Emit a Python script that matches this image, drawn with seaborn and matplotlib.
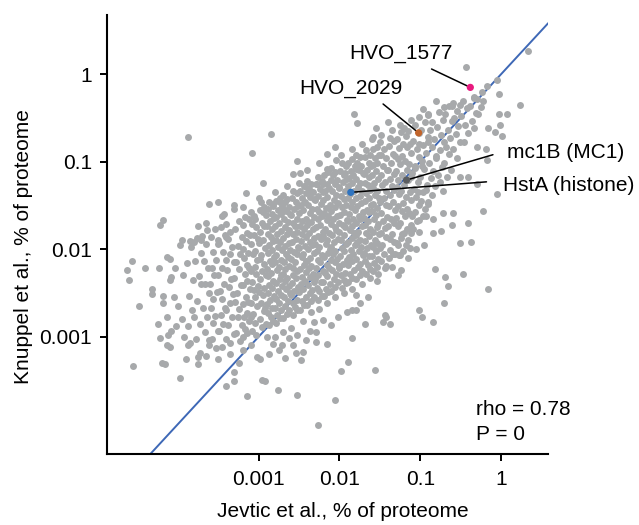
import numpy as np
import pandas as pd
import matplotlib
matplotlib.use("Agg")
import matplotlib.pyplot as plt
import seaborn as sns

# ---- values are log10(% of proteome) ----
# dense cloud, read in vertical strips from left to right
jevtic_core = [
    -3.84,-3.89,-3.81,-3.86,-3.83,-3.88,-3.85,-3.90,
    -3.77,-3.72,-3.79,-3.74,-3.71,-3.76,-3.80,-3.73,-3.78,-3.75,
    -3.70,-3.65,-3.68,-3.63,-3.66,-3.61,-3.69,-3.64,-3.67,-3.62,-3.65,
    -3.54,-3.59,-3.51,-3.56,-3.53,-3.58,-3.55,-3.60,-3.52,-3.57,-3.59,-3.54,-3.56,-3.51,-3.58,-3.53,
    -3.47,-3.42,-3.49,-3.44,-3.41,-3.46,-3.50,-3.43,-3.48,-3.45,-3.42,-3.47,-3.44,-3.49,-3.41,-3.46,
    -3.40,-3.35,-3.38,-3.33,-3.36,-3.31,-3.39,-3.34,-3.37,-3.32,-3.35,-3.40,-3.33,-3.38,-3.31,-3.36,
    -3.24,-3.29,-3.21,-3.26,-3.23,-3.28,-3.25,-3.30,-3.22,-3.27,-3.29,-3.24,-3.26,-3.21,-3.28,-3.23,
    -3.17,-3.12,-3.19,-3.14,-3.11,-3.16,-3.20,-3.13,-3.18,-3.15,-3.12,-3.17,-3.14,-3.19,-3.11,-3.16,-3.13,-3.20,-3.15,-3.18,-3.12,-3.17,-3.14,-3.19,
    -3.10,-3.05,-3.08,-3.03,-3.06,-3.01,-3.09,-3.04,-3.07,-3.02,-3.05,-3.10,-3.03,-3.08,-3.01,-3.06,-3.04,-3.09,-3.02,-3.07,-3.10,-3.05,-3.08,-3.03,
    -2.94,-2.99,-2.91,-2.96,-2.93,-2.98,-2.95,-3.00,-2.92,-2.97,-2.99,-2.94,-2.96,-2.91,-2.98,-2.93,-3.00,-2.95,-2.97,-2.92,-2.94,-2.99,-2.91,-2.96,
    -2.87,-2.82,-2.89,-2.84,-2.81,-2.86,-2.90,-2.83,-2.88,-2.85,-2.82,-2.87,-2.84,-2.89,-2.81,-2.86,-2.83,-2.90,-2.85,-2.88,-2.82,-2.87,-2.84,-2.89,-2.81,-2.86,-2.90,-2.83,-2.88,-2.85,-2.82,-2.87,
    -2.74,-2.79,-2.71,-2.76,-2.73,-2.78,-2.75,-2.80,-2.72,-2.77,-2.79,-2.74,-2.76,-2.71,-2.78,-2.73,-2.80,-2.75,-2.77,-2.72,-2.74,-2.79,-2.71,-2.76,-2.73,-2.78,-2.75,-2.80,-2.72,-2.77,-2.74,-2.79,
    -2.70,-2.65,-2.68,-2.63,-2.66,-2.61,-2.69,-2.64,-2.67,-2.62,-2.65,-2.70,-2.63,-2.68,-2.61,-2.66,-2.64,-2.69,-2.62,-2.67,-2.70,-2.65,-2.68,-2.63,-2.66,-2.61,-2.69,-2.64,-2.67,-2.62,-2.65,-2.70,
    -2.57,-2.52,-2.59,-2.54,-2.51,-2.56,-2.60,-2.53,-2.58,-2.55,-2.52,-2.57,-2.54,-2.59,-2.51,-2.56,-2.53,-2.60,-2.55,-2.58,-2.52,-2.57,-2.54,-2.59,-2.51,-2.56,-2.60,-2.53,-2.58,-2.55,-2.52,-2.57,
    -2.44,-2.49,-2.41,-2.46,-2.43,-2.48,-2.45,-2.50,-2.42,-2.47,-2.49,-2.44,-2.46,-2.41,-2.48,-2.43,-2.50,-2.45,-2.47,-2.42,-2.44,-2.49,-2.41,-2.46,-2.43,-2.48,-2.45,-2.50,-2.42,-2.47,-2.44,-2.49,
    -2.40,-2.35,-2.38,-2.33,-2.36,-2.31,-2.39,-2.34,-2.37,-2.32,-2.35,-2.40,-2.33,-2.38,-2.31,-2.36,-2.34,-2.39,-2.32,-2.37,-2.40,-2.35,-2.38,-2.33,-2.36,-2.31,-2.39,-2.34,-2.37,-2.32,-2.35,-2.40,
    -2.27,-2.22,-2.29,-2.24,-2.21,-2.26,-2.30,-2.23,-2.28,-2.25,-2.22,-2.27,-2.24,-2.29,-2.21,-2.26,-2.23,-2.30,-2.25,-2.28,-2.22,-2.27,-2.24,-2.29,-2.21,-2.26,-2.30,-2.23,-2.28,-2.25,-2.22,-2.27,
    -2.14,-2.19,-2.11,-2.16,-2.13,-2.18,-2.15,-2.20,-2.12,-2.17,-2.19,-2.14,-2.16,-2.11,-2.18,-2.13,-2.20,-2.15,-2.17,-2.12,-2.14,-2.19,-2.11,-2.16,-2.13,-2.18,-2.15,-2.20,-2.12,-2.17,-2.14,-2.19,
    -2.10,-2.05,-2.08,-2.03,-2.06,-2.01,-2.09,-2.04,-2.07,-2.02,-2.05,-2.10,-2.03,-2.08,-2.01,-2.06,-2.04,-2.09,-2.02,-2.07,-2.10,-2.05,-2.08,-2.03,-2.06,-2.01,-2.09,-2.04,-2.07,-2.02,-2.05,-2.10,
    -1.97,-1.92,-1.99,-1.94,-1.91,-1.96,-2.00,-1.93,-1.98,-1.95,-1.92,-1.97,-1.94,-1.99,-1.91,-1.96,-1.93,-2.00,-1.95,-1.98,-1.92,-1.97,-1.94,-1.99,-1.91,-1.96,-2.00,-1.93,-1.98,-1.95,-1.92,-1.97,
    -1.84,-1.89,-1.81,-1.86,-1.83,-1.88,-1.85,-1.90,-1.82,-1.87,-1.89,-1.84,-1.86,-1.81,-1.88,-1.83,-1.90,-1.85,-1.87,-1.82,-1.84,-1.89,-1.81,-1.86,-1.83,-1.88,-1.85,-1.90,-1.82,-1.87,-1.84,-1.89,
    -1.80,-1.75,-1.78,-1.73,-1.76,-1.71,-1.79,-1.74,-1.77,-1.72,-1.75,-1.80,-1.73,-1.78,-1.71,-1.76,-1.74,-1.79,-1.72,-1.77,-1.80,-1.75,-1.78,-1.73,-1.76,-1.71,-1.79,-1.74,-1.77,-1.72,-1.75,-1.80,
    -1.67,-1.62,-1.69,-1.64,-1.61,-1.66,-1.70,-1.63,-1.68,-1.65,-1.62,-1.67,-1.64,-1.69,-1.61,-1.66,-1.63,-1.70,-1.65,-1.68,-1.62,-1.67,-1.64,-1.69,-1.61,-1.66,-1.70,-1.63,-1.68,-1.65,-1.62,-1.67,
    -1.54,-1.59,-1.51,-1.56,-1.53,-1.58,-1.55,-1.60,-1.52,-1.57,-1.59,-1.54,-1.56,-1.51,-1.58,-1.53,-1.60,-1.55,-1.57,-1.52,-1.54,-1.59,-1.51,-1.56,-1.53,-1.58,-1.55,-1.60,-1.52,-1.57,-1.54,-1.59,
    -1.50,-1.45,-1.48,-1.43,-1.46,-1.41,-1.49,-1.44,-1.47,-1.42,-1.45,-1.50,-1.43,-1.48,-1.41,-1.46,-1.44,-1.49,-1.42,-1.47,-1.50,-1.45,-1.48,-1.43,
    -1.37,-1.32,-1.39,-1.34,-1.31,-1.36,-1.40,-1.33,-1.38,-1.35,-1.32,-1.37,-1.34,-1.39,-1.31,-1.36,-1.33,-1.40,-1.35,-1.38,-1.32,-1.37,-1.34,-1.39,
    -1.24,-1.29,-1.21,-1.26,-1.23,-1.28,-1.25,-1.30,-1.22,-1.27,-1.29,-1.24,-1.26,-1.21,-1.28,-1.23,-1.30,-1.25,-1.27,-1.22,-1.24,-1.29,-1.21,-1.26,
    -1.20,-1.15,-1.18,-1.13,-1.16,-1.11,-1.19,-1.14,-1.17,-1.12,-1.15,-1.20,-1.13,-1.18,-1.11,-1.16,-1.14,-1.19,-1.12,-1.17,-1.20,-1.15,-1.18,-1.13,
    -1.07,-1.02,-1.09,-1.04,-1.01,-1.06,-1.10,-1.03,-1.08,-1.05,-1.02,-1.07,-1.04,-1.09,-1.01,-1.06,-1.03,-1.10,
    -0.94,-0.99,-0.91,-0.96,-0.93,-0.98,-0.95,-1.00,-0.92,-0.97,-0.99,-0.94,-0.96,-0.91,-0.98,-0.93,
    -0.90,-0.85,-0.88,-0.83,-0.86,-0.81,-0.89,-0.84,-0.87,-0.82,-0.85,-0.90,
    -0.77,-0.72,-0.79,-0.74,-0.71,-0.76,-0.80,-0.73,-0.78,-0.75,-0.72,
    -0.64,-0.69,-0.61,-0.66,-0.63,-0.68,-0.65,-0.70,-0.62,-0.67,
    -0.60,-0.55,-0.58,-0.53,-0.56,-0.51,-0.59,-0.54,
    -0.47,-0.42,-0.49,-0.44,-0.41,-0.46,
    -0.34,-0.39,-0.31,-0.36,-0.33,
    -0.30,-0.25,-0.28,
]
knuppel_core = [
    -1.97,-2.16,-2.35,-2.53,-2.70,-2.88,-3.07,-3.25,
    -1.87,-2.04,-2.13,-2.31,-2.40,-2.59,-2.77,-2.86,-3.03,-3.23,
    -1.85,-1.94,-2.13,-2.22,-2.40,-2.50,-2.67,-2.77,-2.95,-3.04,-3.22,
    -1.77,-1.86,-1.94,-2.03,-2.12,-2.21,-2.30,-2.40,-2.49,-2.57,-2.67,-2.76,-2.84,-2.93,-3.03,-3.13,
    -1.75,-1.84,-1.93,-2.03,-2.12,-2.22,-2.30,-2.40,-2.48,-2.57,-2.67,-2.75,-2.85,-2.94,-3.03,-3.12,
    -1.71,-1.80,-1.88,-1.97,-2.06,-2.15,-2.24,-2.34,-2.43,-2.51,-2.61,-2.70,-2.78,-2.87,-2.97,-3.07,
    -1.68,-1.77,-1.86,-1.96,-2.05,-2.15,-2.23,-2.33,-2.41,-2.50,-2.60,-2.68,-2.78,-2.87,-2.96,-3.05,
    -1.63,-1.66,-1.72,-1.81,-1.84,-1.91,-2.00,-2.04,-2.10,-2.18,-2.22,-2.28,-2.36,-2.41,-2.45,-2.55,-2.60,-2.63,-2.73,-2.78,-2.82,-2.91,-2.96,-3.00,
    -1.57,-1.65,-1.71,-1.75,-1.84,-1.88,-1.94,-2.02,-2.06,-2.12,-2.20,-2.25,-2.28,-2.38,-2.42,-2.47,-2.55,-2.61,-2.65,-2.74,-2.78,-2.84,-2.93,-2.98,
    -1.52,-1.55,-1.61,-1.70,-1.73,-1.80,-1.89,-1.93,-1.99,-2.07,-2.11,-2.17,-2.25,-2.30,-2.34,-2.44,-2.49,-2.52,-2.62,-2.67,-2.71,-2.80,-2.85,-2.89,
    -1.46,-1.51,-1.54,-1.60,-1.64,-1.68,-1.73,-1.77,-1.83,-1.86,-1.91,-1.95,-2.01,-2.04,-2.09,-2.14,-2.17,-2.23,-2.27,-2.31,-2.36,-2.41,-2.44,-2.50,-2.54,-2.58,-2.63,-2.67,-2.73,-2.77,-2.82,-2.87,
    -1.42,-1.45,-1.51,-1.55,-1.60,-1.63,-1.70,-1.74,-1.79,-1.83,-1.89,-1.92,-1.97,-2.01,-2.07,-2.12,-2.15,-2.20,-2.24,-2.30,-2.34,-2.39,-2.42,-2.48,-2.52,-2.57,-2.61,-2.67,-2.70,-2.75,-2.79,-2.84,
    -1.38,-1.43,-1.46,-1.52,-1.56,-1.60,-1.65,-1.69,-1.75,-1.78,-1.83,-1.87,-1.93,-1.96,-2.01,-2.06,-2.09,-2.15,-2.19,-2.23,-2.28,-2.33,-2.36,-2.42,-2.46,-2.50,-2.55,-2.59,-2.65,-2.69,-2.74,-2.79,
    -1.33,-1.36,-1.42,-1.46,-1.51,-1.54,-1.61,-1.65,-1.70,-1.74,-1.80,-1.83,-1.88,-1.92,-1.98,-2.03,-2.06,-2.11,-2.15,-2.21,-2.25,-2.30,-2.33,-2.39,-2.43,-2.48,-2.52,-2.58,-2.61,-2.66,-2.70,-2.75,
    -1.28,-1.33,-1.36,-1.42,-1.46,-1.50,-1.55,-1.59,-1.65,-1.68,-1.73,-1.77,-1.83,-1.86,-1.91,-1.96,-1.99,-2.05,-2.09,-2.13,-2.18,-2.23,-2.26,-2.32,-2.36,-2.40,-2.45,-2.49,-2.55,-2.59,-2.64,-2.69,
    -1.22,-1.25,-1.31,-1.35,-1.40,-1.43,-1.50,-1.54,-1.59,-1.63,-1.69,-1.72,-1.77,-1.81,-1.87,-1.92,-1.95,-2.00,-2.04,-2.10,-2.14,-2.19,-2.22,-2.28,-2.32,-2.37,-2.41,-2.47,-2.50,-2.55,-2.59,-2.64,
    -1.17,-1.22,-1.25,-1.31,-1.35,-1.39,-1.44,-1.48,-1.54,-1.57,-1.62,-1.66,-1.72,-1.75,-1.80,-1.85,-1.88,-1.94,-1.98,-2.02,-2.07,-2.12,-2.15,-2.21,-2.25,-2.29,-2.34,-2.38,-2.44,-2.48,-2.53,-2.58,
    -1.12,-1.15,-1.21,-1.25,-1.30,-1.33,-1.40,-1.44,-1.49,-1.53,-1.59,-1.62,-1.67,-1.71,-1.77,-1.82,-1.85,-1.90,-1.94,-2.00,-2.04,-2.09,-2.12,-2.18,-2.22,-2.27,-2.31,-2.37,-2.40,-2.45,-2.49,-2.54,
    -1.07,-1.12,-1.15,-1.21,-1.25,-1.29,-1.34,-1.38,-1.44,-1.47,-1.52,-1.56,-1.62,-1.65,-1.70,-1.75,-1.78,-1.84,-1.88,-1.92,-1.97,-2.02,-2.05,-2.11,-2.15,-2.19,-2.24,-2.28,-2.34,-2.38,-2.43,-2.48,
    -1.02,-1.05,-1.11,-1.15,-1.20,-1.23,-1.30,-1.34,-1.39,-1.43,-1.49,-1.52,-1.57,-1.61,-1.67,-1.72,-1.75,-1.80,-1.84,-1.90,-1.94,-1.99,-2.02,-2.08,-2.12,-2.17,-2.21,-2.27,-2.30,-2.35,-2.39,-2.44,
    -0.97,-1.02,-1.05,-1.11,-1.15,-1.19,-1.24,-1.28,-1.34,-1.37,-1.42,-1.46,-1.52,-1.55,-1.60,-1.65,-1.68,-1.74,-1.78,-1.82,-1.87,-1.92,-1.95,-2.01,-2.05,-2.09,-2.14,-2.18,-2.24,-2.28,-2.33,-2.38,
    -0.92,-0.95,-1.01,-1.05,-1.10,-1.13,-1.20,-1.24,-1.29,-1.33,-1.39,-1.42,-1.47,-1.51,-1.57,-1.62,-1.65,-1.70,-1.74,-1.80,-1.84,-1.89,-1.92,-1.98,-2.02,-2.07,-2.11,-2.17,-2.20,-2.25,-2.29,-2.34,
    -0.87,-0.92,-0.95,-1.01,-1.05,-1.09,-1.14,-1.18,-1.24,-1.27,-1.32,-1.36,-1.42,-1.45,-1.50,-1.55,-1.58,-1.64,-1.68,-1.72,-1.77,-1.82,-1.85,-1.91,-1.95,-1.99,-2.04,-2.08,-2.14,-2.18,-2.23,-2.28,
    -0.83,-0.86,-0.92,-0.96,-1.01,-1.04,-1.11,-1.15,-1.20,-1.24,-1.30,-1.33,-1.38,-1.42,-1.48,-1.53,-1.56,-1.61,-1.65,-1.71,-1.75,-1.80,-1.83,-1.89,-1.93,-1.98,-2.02,-2.08,-2.11,-2.16,-2.20,-2.25,
    -0.78,-0.86,-0.92,-0.96,-1.05,-1.09,-1.15,-1.23,-1.27,-1.33,-1.41,-1.46,-1.49,-1.59,-1.63,-1.68,-1.76,-1.82,-1.86,-1.95,-1.99,-2.05,-2.14,-2.19,
    -0.73,-0.76,-0.82,-0.91,-0.94,-1.01,-1.10,-1.14,-1.20,-1.28,-1.32,-1.38,-1.46,-1.51,-1.55,-1.65,-1.70,-1.73,-1.83,-1.88,-1.92,-2.01,-2.06,-2.10,
    -0.66,-0.74,-0.80,-0.84,-0.93,-0.97,-1.03,-1.11,-1.15,-1.21,-1.29,-1.34,-1.37,-1.47,-1.51,-1.56,-1.64,-1.70,-1.74,-1.83,-1.87,-1.93,-2.02,-2.07,
    -0.62,-0.65,-0.71,-0.80,-0.83,-0.90,-0.99,-1.03,-1.09,-1.17,-1.21,-1.27,-1.35,-1.40,-1.44,-1.54,-1.59,-1.62,-1.72,-1.77,-1.81,-1.90,-1.95,-1.99,
    -0.58,-0.67,-0.76,-0.86,-0.95,-1.05,-1.13,-1.23,-1.31,-1.40,-1.50,-1.58,-1.68,-1.77,-0.80,-1.07,-1.35,-1.62,
    -0.55,-0.64,-0.72,-0.81,-0.90,-0.99,-1.08,-1.18,-1.27,-1.35,-1.45,-1.54,-1.62,-0.78,-1.05,-1.32,
    -0.46,-0.55,-0.64,-0.74,-0.83,-0.93,-1.01,-1.11,-1.19,-1.28,-1.38,-1.46,
    -0.43,-0.52,-0.60,-0.69,-0.78,-0.87,-0.96,-1.06,-1.15,-1.23,-1.33,
    -0.36,-0.45,-0.54,-0.64,-0.73,-0.83,-0.91,-1.01,-1.09,-1.18,
    -0.33,-0.42,-0.50,-0.59,-0.68,-0.77,-0.86,-0.96,
    -0.30,-0.39,-0.48,-0.58,-0.67,-0.77,
    -0.27,-0.36,-0.44,-0.53,-0.62,
    -0.28,-0.37,-0.46,
]

# scattered proteins outside the dense cloud
jevtic_sparse = [
    0.33,-0.43,-0.05,-0.17,-0.24,-0.34,-0.22,-0.03,0.23,0.08,-0.03,-0.01,0.01,-0.16,-0.08,
    -0.80,-0.71,-0.61,-0.51,-0.96,-0.90,-1.01,-1.82,-1.78,-1.59,-2.85,-3.88,-3.08,-0.17,-0.18,-0.30,
    -2.06,-2.16,-2.04,-2.53,-2.57,-2.49,-2.50,-2.95,-3.16,-2.43,-2.36,-2.28,-2.20,-2.16,-1.93,-1.79,
    -4.22,-4.18,-3.75,-3.61,-3.50,-3.43,-3.31,-3.30,-3.06,-2.95,-2.97,-2.82,-2.74,-2.70,
    -4.57,-4.63,-4.61,-4.41,-4.32,-4.32,-4.48,-4.19,-4.10,-4.08,
    -3.97,-3.95,-3.85,-3.80,-3.72,-3.64,-3.50,-3.40,-4.14,-4.10,
    -4.23,-4.04,-3.94,-4.14,-4.08,-4.12,-4.14,-4.10,-4.20,-4.16,
    -4.56,-3.98,-3.75,-3.88,-3.73,-3.62,-3.40,-3.31,-3.30,-3.15,
    -2.96,-2.92,-2.76,-2.52,-2.06,-2.27,-1.98,-1.89,-1.56,-2.67,
    -2.48,-2.45,
    -1.02,-0.98,-0.84,-0.16,-0.47,-0.69,-0.66,-0.71,-0.82,-1.24,
    -1.44,-1.46,-1.37,-1.68,-1.79,-1.80,-1.91,-2.02,-1.54,-1.44,
    -1.42,-1.85,-2.15,-2.29,-2.54,-2.71,-2.87,-3.02,-2.98,-1.85,
    -2.10,-2.21,-2.32,-2.29,-2.36,-2.41,-2.53,
    -0.51,-0.37,-0.41,-0.61,-0.74,-0.84,-0.59,-0.22,-0.05,-0.41,
    -0.51,-0.30,-0.90,-1.02,-0.93,-0.84,-1.11,-1.02,-1.31,-1.25,
    -1.27,-0.72,
    -1.95,-1.85,-1.72,-1.62,-1.52,-1.35,-2.05,-2.15,-2.25,-2.35,
    -2.45,-2.60,-2.70,-2.80,-1.65,-1.75,-1.28,-1.15,-1.05,-0.95,
    -2.65,-2.40,-2.25,-1.98,-1.85,-1.72,-1.60,-1.48,-1.35,-1.25,
    -1.12,-2.80,-3.00,-3.20,-3.45,-3.65,-1.55,-1.40,
    -4.05,-4.00,-3.95,-4.02,-3.92,-4.18,-4.25,-4.22,
    -2.90,-2.82,-2.75,-2.62,-2.58,-3.10,-3.20,-3.35,-3.50,-3.25,
]
knuppel_sparse = [
    0.27,0.08,-0.06,-0.13,-0.20,-0.26,-0.30,-0.22,-0.35,-0.45,-0.45,-0.58,-0.71,-0.62,-0.66,
    -0.31,-0.38,-0.36,-0.35,-0.40,-0.47,-0.49,-0.46,-0.56,-0.72,-0.68,-0.72,-0.90,-0.98,-0.86,-0.83,
    -0.83,-0.91,-0.98,-0.99,-1.14,-1.13,-1.24,-1.24,-1.36,-1.28,-1.34,-1.25,-1.25,-1.08,-1.13,-1.08,
    -1.72,-1.67,-1.73,-1.48,-1.46,-1.60,-1.49,-1.54,-1.62,-1.57,-1.46,-1.48,-1.46,-1.54,
    -2.14,-2.24,-2.35,-2.21,-2.45,-2.51,-2.65,-2.54,-2.35,-2.32,
    -1.95,-1.90,-1.91,-1.92,-1.90,-1.78,-1.89,-1.86,-2.09,-2.11,
    -2.22,-2.22,-2.30,-2.77,-2.94,-2.98,-3.10,-3.12,-3.30,-3.31,
    -3.34,-3.47,-3.31,-3.10,-3.19,-3.10,-3.56,-3.51,-3.40,-3.68,
    -3.49,-3.51,-3.61,-3.67,-3.72,-4.01,-3.39,-3.29,-3.38,-3.24,
    -3.27,-3.17,
    -2.70,-2.77,-2.83,-2.46,-2.28,-2.32,-2.42,-2.61,-2.23,-2.24,
    -2.75,-2.83,-2.86,-2.85,-2.70,-2.52,-2.72,-2.77,-2.36,-2.22,
    -2.77,-3.01,-3.08,-3.06,-3.19,-3.09,-3.20,-3.23,-3.25,-2.69,
    -2.87,-2.81,-2.83,-2.95,-2.93,-3.04,-2.98,
    -1.93,-1.92,-1.70,-1.72,-1.79,-1.81,-1.59,-1.56,-1.37,-1.17,
    -1.18,-1.25,-1.48,-1.67,-1.62,-1.66,-1.81,-1.80,-2.05,-2.07,
    -1.95,-1.59,
    -2.50,-2.45,-2.40,-2.33,-2.28,-2.20,-2.55,-2.62,-2.68,-2.72,
    -2.82,-2.90,-2.95,-3.00,-2.55,-2.62,-2.30,-2.10,-2.00,-1.95,
    -1.28,-1.10,-1.02,-0.92,-0.86,-0.80,-0.74,-0.70,-0.64,-0.58,
    -0.52,-1.35,-1.42,-1.52,-1.62,-1.70,-0.62,-0.55,
    -2.55,-2.65,-2.80,-2.88,-3.00,-2.62,-2.85,-3.02,
    -3.00,-3.08,-3.15,-3.02,-3.10,-3.10,-3.15,-3.20,-3.25,-3.30,
]

# highlighted proteins
hl_labels = ["HVO_1577", "HVO_2029", "mc1B (MC1)", "HstA (histone)"]
hl_jevtic = [-0.38, -1.02, -1.17, -1.86]
hl_knuppel = [-0.15, -0.67, -1.21, -1.35]
hl_colors = ["#e8197e", "#c2652c", "#5b5d5f", "#2f74c0"]

tick_values = [0.001, 0.01, 0.1, 1]
tick_labels = ["0.001", "0.01", "0.1", "1"]
rho_text = "rho = 0.78"
p_text = "P = 0"

assert len(jevtic_core) == len(knuppel_core), (len(jevtic_core), len(knuppel_core))
assert len(jevtic_sparse) == len(knuppel_sparse), (len(jevtic_sparse), len(knuppel_sparse))

df = pd.DataFrame({
    "jevtic": 10 ** np.array(jevtic_core + jevtic_sparse),
    "knuppel": 10 ** np.array(knuppel_core + knuppel_sparse),
})
hl = pd.DataFrame({
    "label": hl_labels,
    "jevtic": 10 ** np.array(hl_jevtic),
    "knuppel": 10 ** np.array(hl_knuppel),
})

sns.set_theme(style="ticks")
plt.rcParams["font.family"] = ["Liberation Sans", "DejaVu Sans"]
plt.rcParams["text.color"] = "black"
plt.rcParams["axes.labelcolor"] = "black"
plt.rcParams["xtick.color"] = "black"
plt.rcParams["ytick.color"] = "black"
FS = 15

fig = plt.figure(figsize=(6.39, 5.25), dpi=100)
ax = fig.add_axes([0.168, 0.1347, 0.690, 0.8368])

ax.set_xscale("log")
ax.set_yscale("log")
ax.set_xlim(10 ** -4.874, 10 ** 0.585)
ax.set_ylim(10 ** -4.345, 10 ** 0.678)

ax.axline((0.01, 0.01), (1, 1), color="#3e68b6", lw=1.4, zorder=1)

sns.scatterplot(data=df, x="jevtic", y="knuppel", color="#a7a9ab", s=25,
                linewidth=0, ax=ax, zorder=2)
sns.scatterplot(data=hl, x="jevtic", y="knuppel", hue="label",
                palette=dict(zip(hl_labels, hl_colors)), s=27, linewidth=0,
                legend=False, ax=ax, zorder=4)

# annotation leader lines and labels
line_start = {
    "HVO_1577": (10 ** -0.86, 10 ** 0.06),
    "HVO_2029": (10 ** -1.46, 10 ** -0.34),
    "mc1B (MC1)": (10 ** -0.10, 10 ** -0.92),
    "HstA (histone)": (10 ** -0.18, 10 ** -1.23),
}
for lab, px, py in zip(hl_labels, hl["jevtic"], hl["knuppel"]):
    ax.annotate("", xy=(px, py), xytext=line_start[lab],
                arrowprops=dict(arrowstyle="-", color="black", lw=1.1,
                                shrinkA=0, shrinkB=2.5), zorder=3)

ax.text(10 ** -1.24, 10 ** 0.24, "HVO_1577", ha="center", va="center", fontsize=FS, color="black")
ax.text(10 ** -1.86, 10 ** -0.16, "HVO_2029", ha="center", va="center", fontsize=FS, color="black")
ax.text(10 ** 0.07, 10 ** -0.90, "mc1B (MC1)", ha="left", va="center", fontsize=FS, color="black")
ax.text(10 ** 0.02, 10 ** -1.27, "HstA (histone)", ha="left", va="center", fontsize=FS, color="black")

ax.text(0.835, 0.103, rho_text, transform=ax.transAxes, ha="left", va="center", fontsize=FS, color="black")
ax.text(0.835, 0.045, p_text, transform=ax.transAxes, ha="left", va="center", fontsize=FS, color="black")

ax.set_xticks(tick_values)
ax.set_xticklabels(tick_labels)
ax.set_yticks(tick_values)
ax.set_yticklabels(tick_labels)
ax.minorticks_off()
ax.tick_params(axis="both", length=5, width=1.4, color="black", labelsize=FS,
               labelcolor="black", pad=6)

ax.set_xlabel("Jevtic et al., % of proteome", fontsize=FS, color="black")
ax.set_ylabel("Knuppel et al., % of proteome", fontsize=FS, color="black")
ax.xaxis.set_label_coords(0.535, -0.109)
ax.yaxis.set_label_coords(-0.168, 0.4726)

sns.despine(ax=ax)
for side in ("left", "bottom"):
    ax.spines[side].set_linewidth(1.5)
    ax.spines[side].set_color("black")

fig.savefig("out.png", dpi=100)
